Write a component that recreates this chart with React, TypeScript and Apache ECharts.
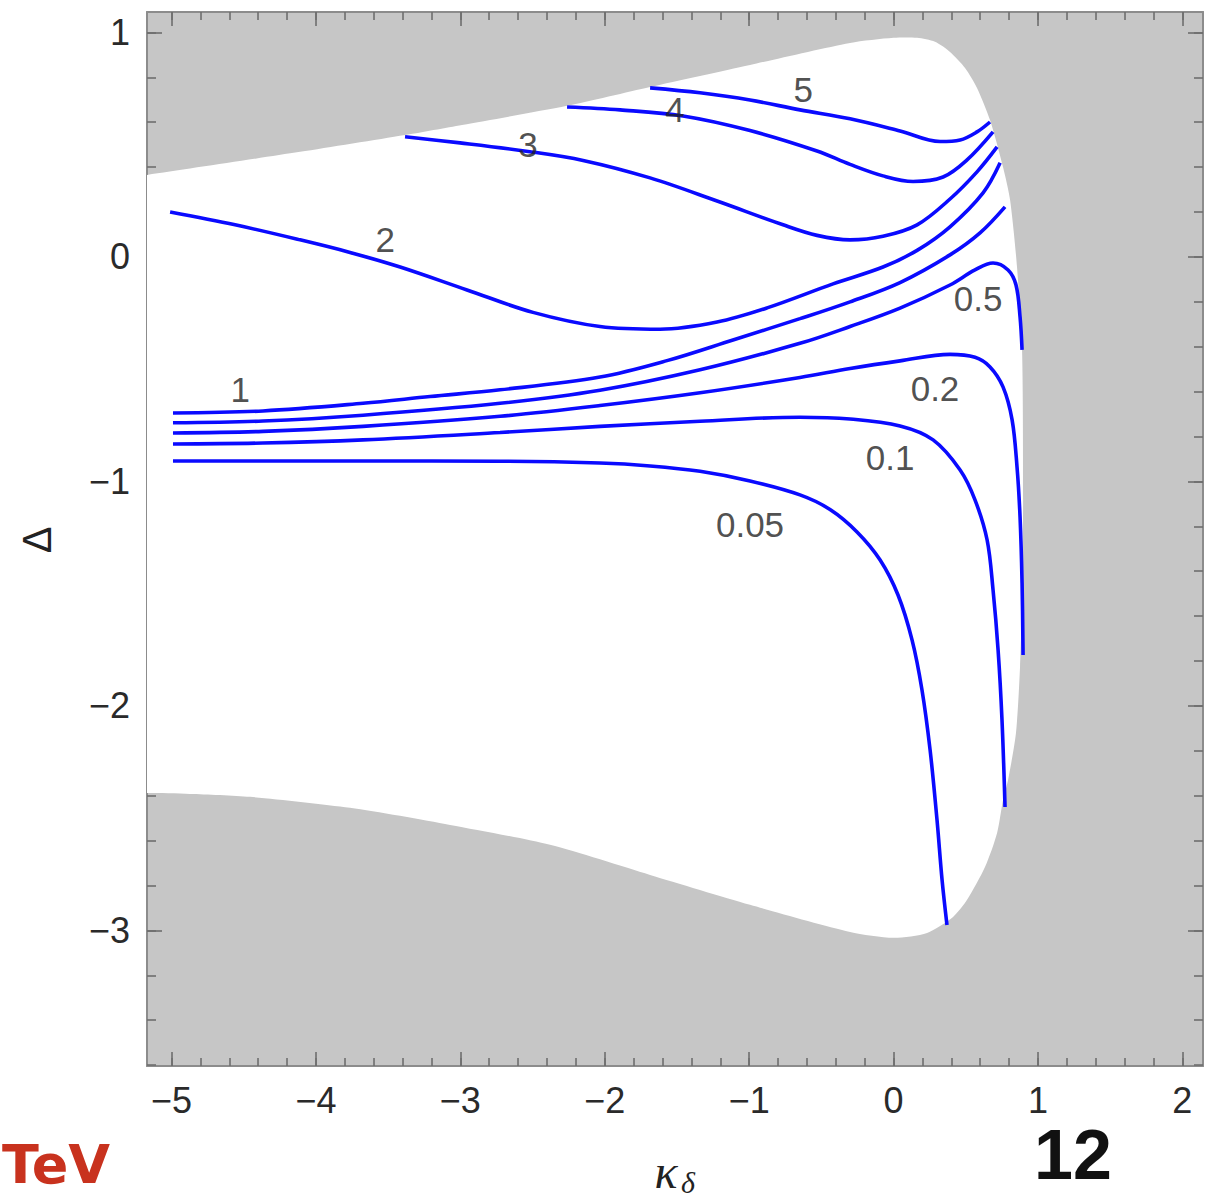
import React, { useEffect, useRef } from "react";
import * as echarts from "echarts";

// ---- axis ranges & ticks ----
const X_MIN = -5.17;
const X_MAX = 2.143;
const Y_MIN = -3.604;
const Y_MAX = 1.091;
const xMajorTicks = [-5, -4, -3, -2, -1, 0, 1, 2];
const yMajorTicks = [-3, -2, -1, 0, 1];
const xMinorTicks: number[] = [];
for (let i = -25; i <= 10; i++) xMinorTicks.push(Math.round(i * 2) / 10);
const yMinorTicks: number[] = [];
for (let i = -18; i <= 5; i++) yMinorTicks.push(Math.round(i * 2) / 10);

// ---- allowed (white) region boundary, clockwise from left-top (first/last points lie outside the frame) ----
const regionX = [
  -5.6, -5.17, -4.11, -3.383, -2.988, -2.261, -1.686, -0.994, -0.301, 0.0, 0.163, 0.287, 0.391, 0.495, 0.578,
  0.668, 0.758, 0.807, 0.855, 0.89, 0.897, 0.89, 0.876, 0.848, 0.793, 0.758, 0.717, 0.634, 0.509, 0.412,
  0.232, 0.0, -0.301, -0.994, -1.686, -2.379, -3.071, -3.764, -4.456, -4.872, -5.17, -5.6,
];
const regionY = [
  0.323, 0.365, 0.468, 0.543, 0.588, 0.673, 0.757, 0.855, 0.953, 0.976, 0.976, 0.958, 0.913, 0.842, 0.753,
  0.61, 0.401, 0.254, -0.045, -0.414, -1.082, -1.528, -1.826, -2.12, -2.33, -2.419, -2.566, -2.717, -2.864,
  -2.94, -3.011, -3.033, -3.007, -2.886, -2.753, -2.619, -2.53, -2.454, -2.405, -2.392, -2.388, -2.388,
];

// ---- contour curves ----
const c5 = [
  [-1.686, 0.753], [-1.34, 0.731], [-0.994, 0.699], [-0.648, 0.655], [-0.301, 0.615], [0.045, 0.561],
  [0.322, 0.514], [0.461, 0.521], [0.578, 0.557], [0.668, 0.601],
];
const c4 = [
  [-2.261, 0.668], [-1.894, 0.655], [-1.458, 0.628], [-0.994, 0.563], [-0.53, 0.472], [-0.301, 0.412],
  [-0.073, 0.361], [0.135, 0.336], [0.343, 0.356], [0.509, 0.432], [0.689, 0.557],
];
const c3 = [
  [-3.383, 0.535], [-3.002, 0.508], [-2.531, 0.47], [-2.15, 0.43], [-1.686, 0.352], [-1.222, 0.249],
  [-0.765, 0.143], [-0.53, 0.096], [-0.301, 0.076], [-0.073, 0.092], [0.163, 0.143], [0.391, 0.258],
  [0.578, 0.379], [0.717, 0.49],
];
const c2 = [
  [-5.01, 0.2], [-4.56, 0.143], [-4.11, 0.076], [-3.764, 0.02], [-3.417, -0.045], [-2.954, -0.147],
  [-2.497, -0.247], [-2.033, -0.31], [-1.617, -0.322], [-1.222, -0.29], [-0.876, -0.227], [-0.419, -0.12],
  [-0.073, -0.045], [0.163, 0.029], [0.391, 0.134], [0.62, 0.285], [0.738, 0.419],
];
const c1 = [
  [-4.99, -0.695], [-4.367, -0.686], [-3.674, -0.652], [-3.21, -0.622], [-2.725, -0.592], [-2.033, -0.535],
  [-1.569, -0.462], [-1.112, -0.37], [-0.648, -0.275], [-0.301, -0.2], [0.045, -0.114], [0.391, 0.009],
  [0.599, 0.107], [0.772, 0.223],
];
const c05 = [
  [-4.99, -0.739], [-4.367, -0.731], [-3.674, -0.705], [-2.725, -0.652], [-2.033, -0.594],
  [-1.34, -0.503], [-0.648, -0.385], [-0.301, -0.31], [0.045, -0.228], [0.391, -0.125], [0.564, -0.058],
  [0.689, -0.027], [0.793, -0.058], [0.848, -0.125], [0.876, -0.267], [0.89, -0.414],
];
const c02 = [
  [-4.99, -0.784], [-4.367, -0.777], [-3.674, -0.755], [-2.725, -0.71], [-2.033, -0.662],
  [-1.34, -0.605], [-0.648, -0.537], [-0.301, -0.497], [0.045, -0.463], [0.391, -0.434], [0.564, -0.447],
  [0.668, -0.49], [0.758, -0.579], [0.821, -0.726], [0.855, -0.935], [0.876, -1.158], [0.89, -1.452],
  [0.897, -1.773],
];
const c01 = [
  [-4.99, -0.833], [-4.367, -0.829], [-3.674, -0.815], [-2.725, -0.782], [-2.033, -0.755],
  [-1.34, -0.732], [-0.648, -0.714], [-0.301, -0.722], [0.045, -0.753], [0.274, -0.815], [0.461, -0.949],
  [0.564, -1.082], [0.648, -1.261], [0.689, -1.483], [0.724, -1.751], [0.751, -2.062], [0.772, -2.45],
];
const c005 = [
  [-4.99, -0.909], [-4.367, -0.909], [-3.674, -0.909], [-2.725, -0.91], [-2.033, -0.918],
  [-1.686, -0.931], [-1.34, -0.955], [-0.994, -0.998], [-0.648, -1.06], [-0.44, -1.125], [-0.253, -1.225],
  [-0.093, -1.35], [0.031, -1.506], [0.128, -1.706], [0.197, -1.929], [0.253, -2.196], [0.301, -2.508],
  [0.336, -2.775], [0.37, -2.976],
];
const curves = [c5, c4, c3, c2, c1, c05, c02, c01, c005];

// ---- contour labels ----
const labelTexts = ["5", "4", "3", "2", "1", "0.5", "0.2", "0.1", "0.05"];
const labelX = [-0.626, -1.513, -2.531, -3.521, -4.525, 0.585, 0.287, -0.024, -0.994];
const labelY = [0.744, 0.655, 0.499, 0.076, -0.592, -0.183, -0.584, -0.895, -1.194];

const FRAME = "#8c8c8c";
const TICK = "#6e6e6e";
const BLUE = "#0a0aff";
const fmt = (v: number) => (v < 0 ? "\u2212" + Math.abs(v) : String(v));

function makeX(position: "bottom" | "top", ticks: number[], len: number, labels: boolean, line: boolean) {
  return {
    type: "value",
    min: X_MIN,
    max: X_MAX,
    position,
    axisLine: { show: line, onZero: false, lineStyle: { color: FRAME, width: 2 } },
    axisTick: { show: true, inside: true, length: len, customValues: ticks, lineStyle: { color: TICK, width: 1.6 } },
    axisLabel: labels
      ? { show: true, customValues: xMajorTicks, formatter: fmt, fontSize: 36, color: "#2a2a2a", margin: 16, fontFamily: "Liberation Sans" }
      : { show: false },
    splitLine: { show: false },
  };
}
function makeY(position: "left" | "right", ticks: number[], len: number, labels: boolean, line: boolean) {
  return {
    type: "value",
    min: Y_MIN,
    max: Y_MAX,
    position,
    axisLine: { show: line, onZero: false, lineStyle: { color: FRAME, width: 2 } },
    axisTick: { show: true, inside: true, length: len, customValues: ticks, lineStyle: { color: TICK, width: 1.6 } },
    axisLabel: labels
      ? { show: true, customValues: yMajorTicks, formatter: fmt, fontSize: 36, color: "#2a2a2a", margin: 17, fontFamily: "Liberation Sans" }
      : { show: false },
    splitLine: { show: false },
  };
}

export default function App() {
  const ref = useRef<HTMLDivElement>(null);
  useEffect(() => {
    if (!ref.current) return;
    const chart = echarts.init(ref.current, null, { renderer: "svg" });
    const lineSeries = curves.map((c) => ({
      type: "line",
      data: c,
      xAxisIndex: 0,
      yAxisIndex: 0,
      showSymbol: false,
      smooth: 0.35,
      clip: true,
      lineStyle: { color: BLUE, width: 3.6 },
      z: 3,
      silent: true,
    }));
    chart.setOption({
      animation: false,
      backgroundColor: "#ffffff",
      grid: {
        left: 147,
        top: 12,
        right: 6,
        bottom: 133,
        show: true,
        backgroundColor: "#c6c6c6",
        borderWidth: 0,
        containLabel: false,
        outerBoundsMode: "none",
      },
      xAxis: [
        makeX("bottom", xMajorTicks, 14, true, true),
        makeX("bottom", xMinorTicks, 8, false, false),
        makeX("top", xMajorTicks, 14, false, true),
        makeX("top", xMinorTicks, 8, false, false),
      ],
      yAxis: [
        makeY("left", yMajorTicks, 15, true, true),
        makeY("left", yMinorTicks, 9, false, false),
        makeY("right", yMajorTicks, 15, false, true),
        makeY("right", yMinorTicks, 9, false, false),
      ],
      series: [
        {
          type: "custom",
          xAxisIndex: 0,
          yAxisIndex: 0,
          silent: true,
          clip: true,
          z: 1,
          data: [[0, 0]],
          renderItem: (_params: any, api: any) => {
            const pts = regionX.map((x, i) => api.coord([x, regionY[i]]));
            return { type: "polygon", shape: { points: pts, smooth: 0.25 }, style: { fill: "#ffffff" } };
          },
        },
        ...lineSeries,
        {
          type: "scatter",
          xAxisIndex: 0,
          yAxisIndex: 0,
          symbolSize: 0,
          silent: true,
          z: 5,
          data: labelX.map((x, i) => ({ value: [x, labelY[i]], name: labelTexts[i] })),
          label: {
            show: true,
            position: "inside",
            formatter: (p: any) => p.name,
            fontSize: 35,
            color: "#222",
            fontFamily: "Liberation Sans",
          },
        },
      ],
      graphic: [
        {
          type: "text",
          x: 37,
          y: 540,
          rotation: Math.PI / 2,
          style: { text: "Δ", fontSize: 40, fontFamily: "Liberation Sans", fill: "#222", textAlign: "center", textVerticalAlign: "middle" },
        },
        {
          type: "text",
          x: 666,
          y: 1171,
          style: { text: "κ", fontSize: 48, fontStyle: "italic", fontFamily: "Liberation Serif", fill: "#222", textAlign: "center", textVerticalAlign: "middle" },
        },
        {
          type: "text",
          x: 688,
          y: 1182,
          style: { text: "δ", fontSize: 30, fontStyle: "italic", fontFamily: "Liberation Serif", fill: "#222", textAlign: "center", textVerticalAlign: "middle" },
        },
        {
          type: "text",
          x: 2,
          y: 1164,
          style: { text: "TeV", fontSize: 54, fontWeight: "bold", fontFamily: "DejaVu Sans", fill: "#c8321e", textAlign: "left", textVerticalAlign: "middle" },
        },
        {
          type: "text",
          x: 1073,
          y: 1155,
          style: { text: "12", fontSize: 70, fontWeight: "bold", fontFamily: "Liberation Sans", fill: "#111", textAlign: "center", textVerticalAlign: "middle" },
        },
      ],
    });
    return () => chart.dispose();
  }, []);
  return <div ref={ref} style={{ position: "fixed", left: 0, top: 0, width: 1209, height: 1199 }} />;
}
